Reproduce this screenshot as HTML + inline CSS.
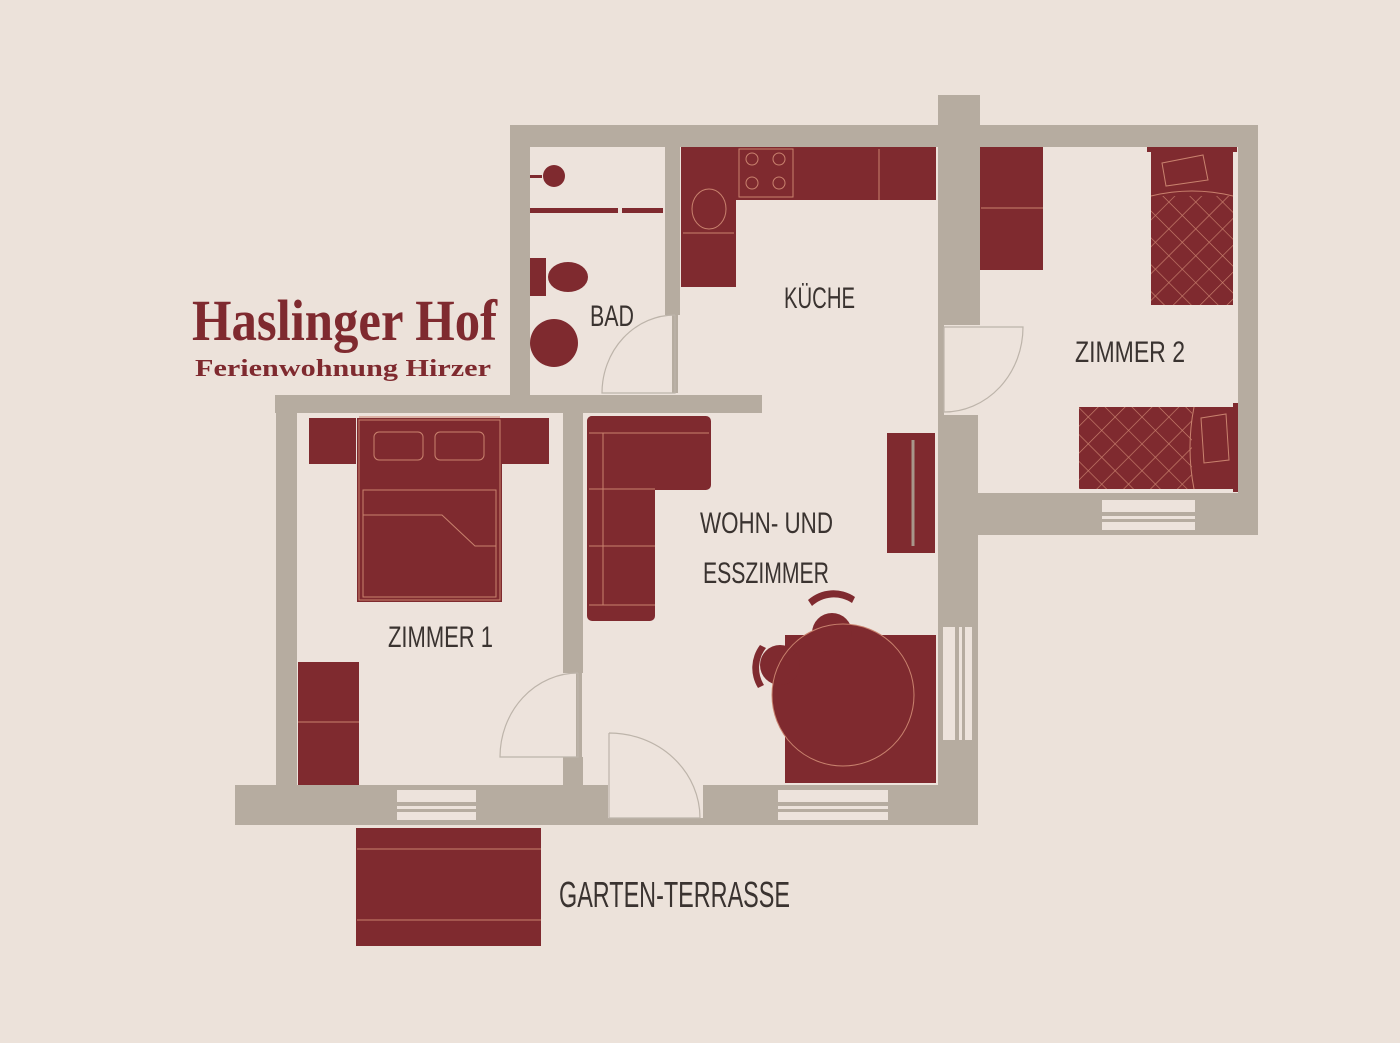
<!DOCTYPE html>
<html><head><meta charset="utf-8"><style>
html,body{margin:0;padding:0;background:#ece2da;}
svg{display:block}
.lbl{font-family:"Liberation Sans Narrow","Liberation Sans",sans-serif;fill:#3a3330;font-weight:normal;}
</style></head><body>
<svg width="1400" height="1043" viewBox="0 0 1400 1043" xmlns="http://www.w3.org/2000/svg">
<defs>
<pattern id="quilt" width="19" height="19" patternUnits="userSpaceOnUse" patternTransform="rotate(45)">
<rect width="19" height="19" fill="#7f2a2f"/>
<path d="M0 0H19M0 0V19" stroke="#c9826e" stroke-width="1.3" fill="none"/>
</pattern>
</defs>
<rect width="1400" height="1043" fill="#ece2da"/>
<!-- interior -->
<rect x="530" y="147" width="408" height="640" fill="#ede3dc"/>
<rect x="297" y="413" width="650" height="374" fill="#ede3dc"/>
<rect x="980" y="147" width="258" height="346" fill="#ede3dc"/>

<g fill="#b6aca0">
<!-- top wall bad/kitchen -->
<rect x="510" y="125" width="430" height="22"/>
<rect x="510" y="125" width="20" height="270"/>
<rect x="665" y="147" width="15" height="168"/>
<rect x="672" y="315" width="6" height="78"/>
<rect x="275" y="395" width="487" height="18"/>
<rect x="276" y="395" width="21" height="392"/>
<rect x="235" y="785" width="743" height="40"/>
<rect x="563" y="413" width="20" height="260"/>
<rect x="576" y="673" width="6" height="84"/>
<rect x="563" y="757" width="20" height="30"/>
<!-- right column -->
<rect x="938" y="95" width="42" height="230"/>
<rect x="938" y="325" width="6" height="90"/>
<rect x="938" y="415" width="40" height="410"/>
<!-- zimmer 2 -->
<rect x="978" y="125" width="280" height="22"/>
<rect x="1238" y="125" width="20" height="410"/>
<rect x="978" y="493" width="280" height="42"/>
</g>
<!-- windows / door openings -->
<g fill="#ede3dc">
<rect x="397" y="790" width="79" height="12"/>
<rect x="397" y="806" width="79" height="3"/>
<rect x="397" y="812" width="79" height="8"/>
<rect x="778" y="790" width="110" height="12"/>
<rect x="778" y="806" width="110" height="3"/>
<rect x="778" y="812" width="110" height="8"/>
<rect x="1102" y="500" width="93" height="12"/>
<rect x="1102" y="516" width="93" height="3"/>
<rect x="1102" y="522" width="93" height="8"/>
<rect x="943" y="627" width="12" height="113"/>
<rect x="959" y="627" width="3" height="113"/>
<rect x="965" y="627" width="7" height="113"/>
<rect x="608" y="785" width="95" height="33"/>
</g>
<!-- doors -->
<g fill="none" stroke="#bdb4aa" stroke-width="1.2">
<path d="M675 315 A73 78 0 0 0 602 393 H675 V315"/>
<path d="M578 673 A78 84 0 0 0 500 757 H578 V673"/>
<path d="M609 733 V818 H700 A91 85 0 0 0 609 733"/>
<path d="M944 327 H1023 A79 85 0 0 1 944 412 V327"/>
</g>

<g fill="#7f2a2f">
<!-- bath -->
<rect x="530" y="175" width="12" height="3"/>
<circle cx="554" cy="176" r="11"/>
<rect x="530" y="208" width="88" height="5"/>
<rect x="622" y="208" width="41" height="5"/>
<rect x="530" y="258" width="16" height="38"/>
<ellipse cx="568" cy="277" rx="20" ry="15"/>
<circle cx="554" cy="343" r="24"/>
<!-- kitchen -->
<rect x="681" y="147" width="255" height="53"/>
<rect x="681" y="147" width="55" height="140"/>
<!-- bedroom 1 -->
<rect x="309" y="418" width="47" height="46"/>
<rect x="502" y="418" width="47" height="46"/>
<rect x="357" y="418" width="145" height="184"/>
<rect x="298" y="662" width="61" height="123"/>
<!-- sofa -->
<rect x="587" y="416" width="124" height="74" rx="5"/>
<rect x="587" y="416" width="68" height="205" rx="5"/>
<!-- sideboard -->
<rect x="887" y="433" width="48" height="120"/>
<!-- dining -->
<rect x="785" y="635" width="151" height="148"/>
<circle cx="843" cy="695" r="71"/>
<circle cx="832" cy="633" r="20"/>
<circle cx="780" cy="665" r="20"/>
<path d="M808 600 A38 38 0 0 1 855 597 L852 603 A32 32 0 0 0 812 606Z"/>
<path d="M760 645 A38 38 0 0 0 758 688 L764 685 A32 32 0 0 1 766 648Z"/>
<!-- zimmer 2 -->
<rect x="980" y="147" width="63" height="123"/>
<rect x="1147" y="147" width="90" height="5"/>
<rect x="1233" y="403" width="5" height="89"/>
<!-- terrace -->
<rect x="356" y="828" width="185" height="118"/>
</g>
<rect x="1151" y="150" width="82" height="155" fill="url(#quilt)"/>
<rect x="1151" y="150" width="82" height="46" fill="#7f2a2f"/>
<rect x="1079" y="407" width="154" height="82" fill="url(#quilt)"/>
<rect x="1192" y="407" width="41" height="82" fill="#7f2a2f"/>

<g fill="none" stroke="#c9826e" stroke-width="1">
<!-- kitchen details -->
<rect x="739" y="149" width="54" height="48"/>
<circle cx="752" cy="159" r="6"/><circle cx="779" cy="159" r="6"/>
<circle cx="752" cy="183" r="6"/><circle cx="779" cy="183" r="6"/>
<line x1="879" y1="149" x2="879" y2="200"/>
<ellipse cx="709" cy="209" rx="17" ry="20"/>
<line x1="683" y1="233" x2="734" y2="233"/>
<!-- bed 1 -->
<rect x="359" y="420" width="141" height="180"/>
<rect x="374" y="432" width="49" height="28" rx="5"/>
<rect x="435" y="432" width="49" height="28" rx="5"/>
<rect x="363" y="490" width="133" height="107"/>
<path d="M363 515 H442 L475 546 H496"/>
<line x1="359" y1="417" x2="500" y2="417"/>
<line x1="298" y1="722" x2="359" y2="722"/>
<!-- sofa -->
<path d="M589 433 H709 M589 489 H655 M589 546 H655 M589 605 H655 M603 433 V605"/>
<!-- table -->
<circle cx="843" cy="695" r="71"/>
<!-- zimmer 2 -->
<line x1="981" y1="208" x2="1043" y2="208"/>
<path d="M1162 163 L1203 155 L1208 180 L1166 186Z"/>
<path d="M1151 196 Q1192 186 1233 196"/>
<path d="M1201 418 L1226 414 L1229 460 L1204 463Z"/>
<path d="M1194 407 Q1186 448 1194 489"/>
<!-- terrace -->
<line x1="357" y1="849" x2="541" y2="849"/>
<line x1="357" y1="920" x2="541" y2="920"/>
</g>
<line x1="913" y1="440" x2="913" y2="546" stroke="#a8968a" stroke-width="3"/>

<!-- title -->
<text x="192" y="340" font-family="'Liberation Serif',serif" font-weight="bold" font-size="58" fill="#7f2a2f" textLength="305" lengthAdjust="spacingAndGlyphs">Haslinger Hof</text>
<text x="195" y="376" font-family="'Liberation Serif',serif" font-weight="bold" font-size="24" fill="#7f2a2f" textLength="296" lengthAdjust="spacingAndGlyphs">Ferienwohnung Hirzer</text>

<!-- labels -->
<g class="lbl" font-size="30">
<text x="590" y="326" textLength="44" lengthAdjust="spacingAndGlyphs">BAD</text>
<text x="784" y="308" textLength="71" lengthAdjust="spacingAndGlyphs">KÜCHE</text>
<text x="1075" y="362" textLength="110" lengthAdjust="spacingAndGlyphs">ZIMMER 2</text>
<text x="700" y="533" textLength="133" lengthAdjust="spacingAndGlyphs">WOHN- UND</text>
<text x="703" y="583" textLength="126" lengthAdjust="spacingAndGlyphs">ESSZIMMER</text>
<text x="388" y="647" textLength="105" lengthAdjust="spacingAndGlyphs">ZIMMER 1</text>
<text x="559" y="907" font-size="36" textLength="231" lengthAdjust="spacingAndGlyphs">GARTEN-TERRASSE</text>
</g>
</svg>
</body></html>
